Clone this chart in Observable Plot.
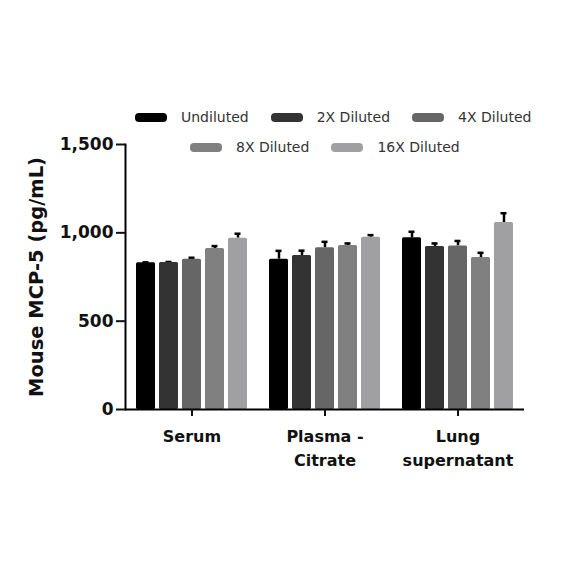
<!DOCTYPE html>
<html><head><meta charset="utf-8">
<script src="https://cdn.jsdelivr.net/npm/d3@7"></script>
<script src="https://cdn.jsdelivr.net/npm/@observablehq/plot@0.6"></script>
<style>
body{margin:0;background:#fff;}
#wrap{position:relative;width:584px;height:584px;}
#legend{position:absolute;left:0;top:107px;width:584px;font-family:"DejaVu Sans",sans-serif;font-size:14px;color:#333;}
.row{display:flex;justify-content:flex-start;gap:22px;height:20px;align-items:center;margin-bottom:10px;}
.item{display:flex;align-items:center;gap:14px;}
.sw{width:32px;height:9px;border-radius:4px;display:inline-block;}
</style></head>
<body><div id="wrap"><div id="legend"></div><div id="chart"></div></div>
<script>
const categories = ["Serum", "Plasma - Citrate", "Lung supernatant"];
const categoryLabels = ["Serum", "Plasma -\nCitrate", "Lung\nsupernatant"];
const dilutions = ["Undiluted", "2X Diluted", "4X Diluted", "8X Diluted", "16X Diluted"];
const colors = ["#000000", "#333333", "#666666", "#808080", "#a0a0a2"];
const serumValues = [830, 832, 851, 911, 970];
const serumErrors = [3, 3, 8, 14, 25];
const plasmaValues = [851, 872, 915, 928, 975];
const plasmaErrors = [47, 27, 34, 12, 12];
const lungValues = [972, 923, 926, 860, 1058];
const lungErrors = [34, 17, 28, 27, 53];
const yTicks = [0, 500, 1000, 1500];

const allValues = [serumValues, plasmaValues, lungValues];
const allErrors = [serumErrors, plasmaErrors, lungErrors];
const data = [];
categories.forEach((c, i) => dilutions.forEach((d, j) => data.push({cat: c, dil: d, value: allValues[i][j], err: allValues[i][j] + allErrors[i][j]})));

const font = "DejaVu Sans, sans-serif";
const chart = Plot.plot({
  width: 584, height: 584,
  marginLeft: 124, marginRight: 60, marginTop: 144, marginBottom: 175,
  style: {fontFamily: font, fontSize: "15px", fontWeight: "bold", color: "#111", background: "white"},
  fx: {domain: categories, padding: 0, label: null, axis: null},
  x: {domain: dilutions, paddingInner: 0.185, paddingOuter: 0.405, axis: null},
  y: {domain: [0, 1500], label: null, axis: null},
  color: {domain: dilutions, range: colors},
  marks: [
    Plot.ruleX(data, {fx: "cat", x: "dil", y1: "value", y2: "err", stroke: "#000", strokeWidth: 2.5}),
    Plot.tickY(data, {fx: "cat", x: "dil", y: "err", stroke: "#000", strokeWidth: 2.5, insetLeft: 6.5, insetRight: 6.5}),
    Plot.barY(data, {fx: "cat", x: "dil", y: "value", fill: "dil", rx: 1.5}),
    Plot.ruleY([0], {stroke: "#000", strokeWidth: 2}),
    Plot.frame({anchor: "left", facetAnchor: "left", stroke: "#000", strokeWidth: 2}),
    Plot.axisY({ticks: yTicks, tickFormat: d3.format(","), tickSize: 9, tickPadding: 3, strokeWidth: 2, fontSize: 17, label: null}),
    Plot.axisFx({anchor: "bottom", tickSize: 7, tickPadding: 8, strokeWidth: 2, fontSize: 16, lineHeight: 1.5, tickFormat: (d) => categoryLabels[categories.indexOf(d)], label: null}),
    Plot.text(["Mouse MCP-5 (pg/mL)"], {frameAnchor: "left", facetAnchor: "left", textAnchor: "middle", rotate: -90, dx: -89, fontSize: 19.5, fontWeight: "bold", fill: "#111"})
  ]
});
document.getElementById("chart").appendChild(chart);

const legend = document.getElementById("legend");
[[[0, 1, 2], 135], [[3, 4], 190]].forEach(([row, left]) => {
  const r = document.createElement("div");
  r.className = "row";
  r.style.paddingLeft = left + "px";
  row.forEach(i => {
    const it = document.createElement("div");
    it.className = "item";
    it.innerHTML = `<span class="sw" style="background:${colors[i]}"></span><span>${dilutions[i]}</span>`;
    r.appendChild(it);
  });
  legend.appendChild(r);
});
</script></body></html>
